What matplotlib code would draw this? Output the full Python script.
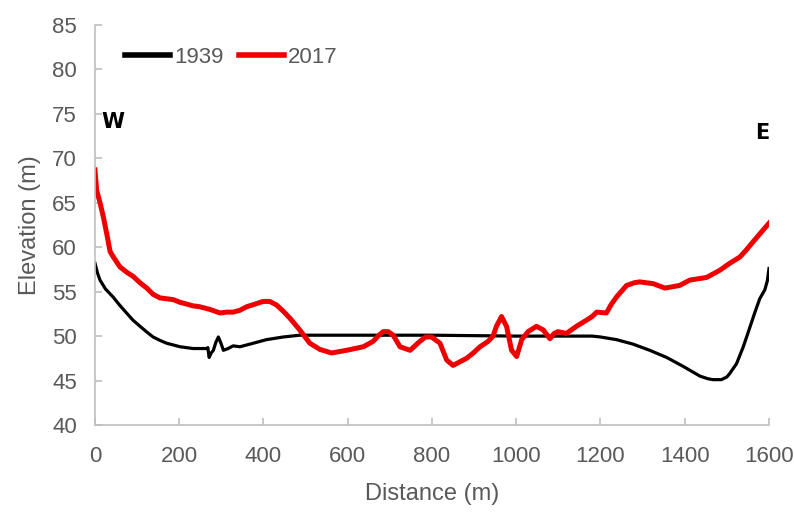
import matplotlib
matplotlib.use('Agg')
import matplotlib.pyplot as plt

# profile 1939 (distance m, elevation m)
dist_1939 = [0, 6, 12, 25, 43, 60, 75, 90, 107, 122, 138, 155, 170, 202, 233, 265, 268, 271,
             276, 281, 287, 293, 299, 305, 316, 328, 344, 376, 407, 447, 486, 600, 800, 1000,
             1180, 1200, 1238, 1277, 1317, 1357, 1396, 1436, 1455, 1467, 1487, 1500, 1507,
             1523, 1539, 1554, 1566, 1578, 1590, 1596, 1600]
elev_1939 = [58.2, 57.1, 56.3, 55.3, 54.4, 53.4, 52.6, 51.8, 51.1, 50.5, 49.9, 49.5, 49.2, 48.8,
             48.6, 48.6, 48.7, 47.6, 48.1, 48.4, 49.3, 49.9, 49.2, 48.4, 48.6, 48.9, 48.8, 49.2,
             49.6, 49.9, 50.1, 50.1, 50.1, 50.0, 50.0, 49.9, 49.6, 49.1, 48.4, 47.6, 46.6, 45.5,
             45.2, 45.1, 45.1, 45.4, 45.8, 46.9, 48.8, 50.9, 52.6, 54.2, 55.2, 56.2, 57.6]

# profile 2017
dist_2017 = [0, 4, 12, 20, 28, 36, 45, 59, 75, 91, 107, 123, 138, 154, 170, 186, 202, 218, 233,
             249, 273, 297, 313, 328, 344, 360, 380, 399, 415, 431, 447, 463, 486, 510, 534,
             562, 597, 637, 660, 672, 684, 696, 708, 724, 748, 771, 785, 799, 819, 835, 850,
             866, 882, 898, 914, 933, 945, 953, 965, 977, 989, 1001, 1013, 1028, 1048, 1064,
             1080, 1090, 1099, 1119, 1143, 1167, 1180, 1191, 1214, 1226, 1238, 1262, 1280,
             1293, 1325, 1353, 1388, 1412, 1452, 1483, 1507, 1531, 1548, 1562, 1580, 1600]
elev_2017 = [68.7, 66.4, 65.0, 63.4, 61.5, 59.5, 58.8, 57.8, 57.2, 56.7, 56.0, 55.4, 54.7, 54.3,
             54.2, 54.1, 53.8, 53.6, 53.4, 53.3, 53.0, 52.6, 52.7, 52.7, 52.9, 53.3, 53.6, 53.9,
             53.9, 53.5, 52.8, 52.0, 50.7, 49.2, 48.5, 48.1, 48.4, 48.8, 49.4, 50.0, 50.5, 50.5,
             50.1, 48.8, 48.4, 49.4, 49.9, 49.9, 49.2, 47.3, 46.7, 47.1, 47.5, 48.1, 48.8, 49.4,
             50.0, 51.1, 52.2, 51.1, 48.4, 47.7, 49.6, 50.5, 51.1, 50.7, 49.7, 50.3, 50.5, 50.3,
             51.1, 51.8, 52.2, 52.7, 52.6, 53.6, 54.4, 55.7, 56.0, 56.1, 55.9, 55.4, 55.7, 56.3,
             56.6, 57.4, 58.2, 58.9, 59.8, 60.6, 61.6, 62.7]

x_ticks = [0, 200, 400, 600, 800, 1000, 1200, 1400, 1600]
y_ticks = [40, 45, 50, 55, 60, 65, 70, 75, 80, 85]

narrow = ['Liberation Sans Narrow', 'Liberation Sans', 'DejaVu Sans']
grey = '#595959'
axis_grey = '#bfbfbf'

fig = plt.figure(figsize=(7.94, 5.17), dpi=100)
ax = fig.add_axes([0.1196, 0.178, 0.8489, 0.7736])

ax.plot(dist_1939, elev_1939, color='black', lw=2.3, label='1939', solid_joinstyle='round')
ax.plot(dist_2017, elev_2017, color='#ee0000', lw=3.6, label='2017', solid_joinstyle='round')

ax.set_xlim(0, 1600)
ax.set_ylim(40, 85)
ax.set_xticks(x_ticks)
ax.set_yticks(y_ticks)

for s in ['top', 'right']:
    ax.spines[s].set_visible(False)
for s in ['left', 'bottom']:
    ax.spines[s].set_color(axis_grey)
    ax.spines[s].set_linewidth(1.2)

ax.tick_params(direction='in', length=5, width=1.2, color=axis_grey, labelcolor=grey,
               labelsize=16)
ax.tick_params(axis='x', pad=15)
ax.tick_params(axis='y', pad=13)
for lbl in ax.get_xticklabels() + ax.get_yticklabels():
    lbl.set_family(narrow)

ax.set_xlabel('Distance (m)', fontsize=17, color=grey, family=narrow, labelpad=12)
ax.set_ylabel('Elevation (m)', fontsize=17, color=grey, family=narrow, labelpad=8)

ax.text(15, 74.1, 'W', fontsize=15, fontweight='bold', va='center', ha='left', color='black')
ax.text(1600, 72.8, 'E', fontsize=15, fontweight='bold', va='center', ha='right', color='black')

leg = ax.legend(loc='center left', bbox_to_anchor=(0.045, 0.92), ncol=2, frameon=False,
                prop={'family': narrow, 'size': 16}, handlelength=2.0, handletextpad=0.2,
                columnspacing=0.7, borderpad=0, borderaxespad=0)
for t in leg.get_texts():
    t.set_color(grey)
for h in leg.get_lines():
    h.set_linewidth(4)

fig.savefig('out.png', dpi=100)
